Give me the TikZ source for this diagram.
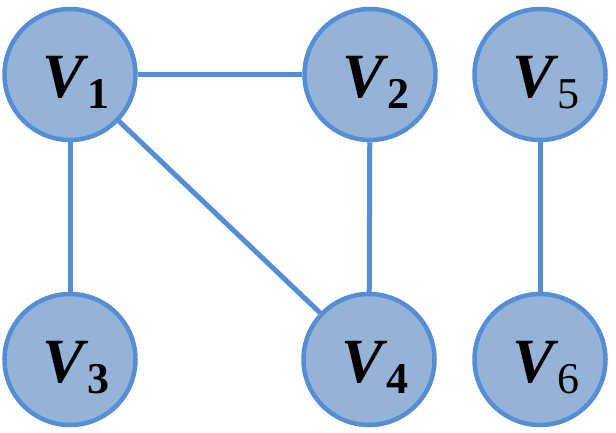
\documentclass[tikz,border=0pt]{standalone}
\usepackage{fontspec}
\setmainfont{Liberation Serif}
\definecolor{nodefill}{RGB}{149,179,215}
\definecolor{nodeline}{RGB}{85,142,213}
\newcommand{\vlab}[2]{\kern12pt{\bfseries\itshape V}\kern3pt\raisebox{-11pt}{\fontsize{44}{44}\selectfont #1#2}}
\begin{document}
\begin{tikzpicture}[x=1pt,y=-1pt,
  vert/.style={circle,draw=nodeline,fill=nodefill,line width=4.5pt,minimum size=131pt,inner sep=0pt,text height=50pt,text depth=5pt,font=\fontsize{63}{63}\selectfont},
  edge/.style={draw=nodeline,line width=5pt}]
\useasboundingbox (0,0) rectangle (616,432);
\node[vert] (v1) at (70,74.5) {\vlab{\bfseries}{1}};
\node[vert] (v2) at (370,74.5) {\vlab{\bfseries}{2}};
\node[vert] (v5) at (540,74.5) {\vlab{}{5}};
\node[vert] (v3) at (70,359.5) {\vlab{\bfseries}{3}};
\node[vert] (v4) at (369,359.5) {\vlab{\bfseries}{4}};
\node[vert] (v6) at (540,359.5) {\vlab{}{6}};
\draw[edge] (v1) -- (v2);
\draw[edge] (v1) -- (v3);
\draw[edge] (v1) -- (v4);
\draw[edge] (v2) -- (v4);
\draw[edge] (v5) -- (v6);
\end{tikzpicture}
\end{document}
